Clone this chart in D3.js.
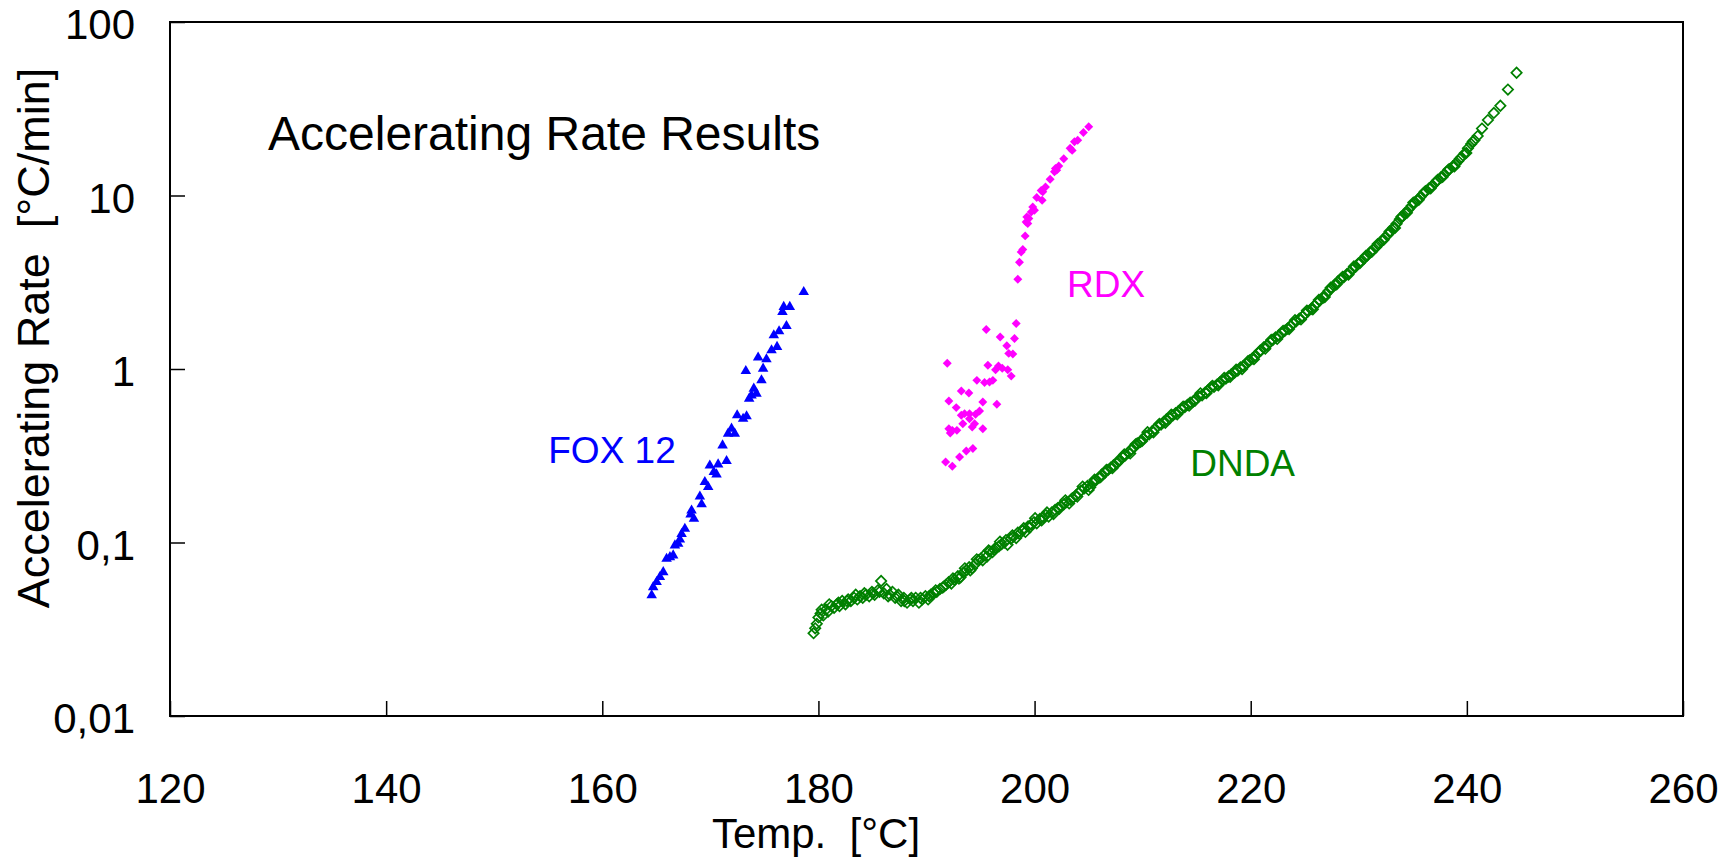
<!DOCTYPE html>
<html><head><meta charset="utf-8">
<script src="https://cdn.jsdelivr.net/npm/d3@7"></script>
<style>
body{margin:0;background:#fff}
svg text{font-family:Arial,"Liberation Sans",sans-serif;white-space:pre}
</style>
</head><body>
<svg id="chart" width="1736" height="859"></svg>
<script>
// ---- data ----
const xTicks = [120, 140, 160, 180, 200, 220, 240, 260];
const yTicks = [0.01, 0.1, 1, 10, 100];
const yTickLabels = ["0,01", "0,1", "1", "10", "100"];
const seriesNames = ["FOX 12", "RDX", "DNDA"];
const seriesColors = ["#0000FF", "#FF00FF", "#008000"];

const foxT = [164.57,164.71,165.03,165.33,165.64,165.95,166.26,166.56,166.72,167.02,167.18,167.34,167.64,168.17,168.26,168.48,169.03,169.19,169.49,169.80,169.95,170.32,170.57,170.72,171.50,171.13,171.64,171.96,172.26,172.48,173.03,173.35,173.28,173.59,173.81,174.27,174.02,174.73,174.88,174.42,175.19,175.66,175.87,176.36,176.17,177.04,176.67,176.79,177.35,178.64];
const foxV = [0.0496,0.0553,0.0592,0.0632,0.0675,0.0806,0.0824,0.0843,0.0962,0.0984,0.104,0.112,0.120,0.145,0.153,0.137,0.184,0.166,0.223,0.209,0.278,0.255,0.247,0.282,0.295,0.363,0.424,0.453,0.424,0.541,0.517,0.534,0.974,0.675,0.705,0.721,0.771,0.861,1.005,1.164,1.137,1.282,1.564,1.649,1.34,1.77,2.13,2.28,2.28,2.78];

const rdxT = [205.01,204.52,203.99,203.69,203.29,203.48,202.70,202.24,201.93,202.05,201.84,201.44,201.01,200.61,200.76,200.20,200.70,199.83,199.99,199.69,199.28,199.47,199.22,199.37,199.13,198.91,198.76,198.60,198.45,
  198.30,195.53,196.82,198.14,197.43,197.61,197.99,191.92,195.68,196.66,197.01,197.52,196.39,197.84,194.66,195.37,195.83,196.14,193.22,193.92,192.07,195.21,196.51,192.75,194.91,194.54,193.98,193.52,193.22,193.98,193.36,192.07,192.39,192.81,192.20,194.45,194.23,195.21,194.29,193.68,193.06,191.77,192.39];
const rdxV = [24.9,23.1,20.8,20.4,18.7,18.2,16.3,14.8,14.3,14.0,13.7,12.4,11.2,10.7,10.5,9.74,9.40,8.59,8.22,8.04,7.53,7.36,7.04,6.90,5.85,4.89,4.73,4.12,3.29,
  1.83,1.69,1.53,1.50,1.36,1.23,1.22,1.08,1.05,1.04,1.01,0.99,0.99,0.91,0.86,0.835,0.841,0.86,0.747,0.727,0.654,0.645,0.626,0.599,0.573,0.548,0.553,0.553,0.541,0.517,0.484,0.453,0.443,0.443,0.428,0.484,0.463,0.453,0.348,0.337,0.311,0.291,0.275];

const dndaT = [179.55,179.7,179.85,180.0,180.2,180.45,180.7,180.9,181.2,181.45,181.7,181.95,182.2,182.5,182.75,183.0,183.3,183.6,183.85,184.1,184.4,184.7,184.95,185.2,185.5,185.8,186.05,186.3,186.6,186.85,187.1,187.4,187.65,187.9,188.2,188.5,188.75,189.0,189.3,189.6,189.9,190.15,190.4,190.7,190.95,191.25,191.5,191.8,192.05,192.3,192.6,192.9,193.15,193.4,193.7,193.95,194.2,194.5,194.8,195.05,195.3,195.6,195.85,196.1,196.4,196.7,196.95,197.2,197.5,197.8,198.05,198.3,198.6,198.9,199.15,199.4,199.7,199.95,200.2,200.5,200.8,201.05,201.3,201.6,201.9,202.15,202.4,202.7,202.95,203.2,203.5,203.8,204.05,204.3,204.6,204.9,205.15,205.4,205.7,205.95,206.2,206.5,206.8,207.05,207.3,207.6,207.9,208.15,208.4,208.7,208.95,209.2,209.5,209.8,210.05,210.3,210.6,210.9,211.15,211.4,211.7,211.95,212.2,212.5,212.8,213.05,213.3,213.6,213.9,214.15,214.4,214.7,214.95,215.2,215.5,215.8,216.05,216.3,216.6,216.9,217.15,217.4,217.7,217.95,218.2,218.5,218.8,219.05,219.3,219.6,219.9,220.15,220.4,220.7,220.95,221.2,221.5,221.8,222.05,222.3,222.6,222.9,223.15,223.4,223.7,223.95,224.2,224.5,224.8,225.05,225.3,225.6,225.9,226.15,226.4,226.7,226.95,227.2,227.5,227.8,228.05,228.3,228.6,228.9,229.15,229.4,229.7,229.95,230.2,230.5,230.8,231.05,231.3,231.6,231.9,232.15,232.4,232.7,232.95,233.2,233.5,233.8,234.05,234.3,234.6,234.9,235.15,235.4,235.7,235.95,236.2,236.5,236.8,237.05,237.3,237.6,237.9,238.15,238.4,238.7,238.95,239.2,239.5,239.8,240.1,240.4,240.7,241.0,241.4,241.95,242.5,243.1,243.8,244.6,
  180.3,181.0,181.85,182.65,183.45,184.25,185.05,185.65,186.45,187.25,187.95,188.6,189.45,190.25,190.85,191.65,192.45,193.0,
  193.55,194.05,194.65,195.2,195.75,196.25,196.8,197.35,197.95,198.45,199.0,199.55,200.05,200.65,201.15,201.75,202.3,202.85,203.35,203.95,204.45,205.0,205.55,206.1,206.65,207.2,207.75,208.3,208.85,209.35,209.95,210.45,211.0,211.55,212.1,212.65,213.2,213.75,214.3,214.85,215.35,215.9,216.45,217.0,217.55,218.1,218.65,219.2,219.75,220.3,220.85,221.35,221.9,222.45,223.0,223.55,224.1,224.65,225.2,225.75,226.3,226.85,227.4,227.95,228.5,229.05,229.55,230.1,230.65,231.2,231.75,232.3,232.85,233.35,233.95,234.45,235.05,235.55,236.1,236.65,237.2,237.75,238.3,238.85,239.35,239.95,240.55];
const dndaV = [0.030,0.032,0.034,0.037,0.039,0.038,0.041,0.040,0.043,0.042,0.044,0.043,0.046,0.044,0.047,0.046,0.048,0.047,0.049,0.048,0.050,0.049,0.052,0.050,0.053,0.060,0.051,0.054,0.050,0.052,0.048,0.050,0.046,0.048,0.045,0.047,0.046,0.048,0.045,0.047,0.049,0.047,0.050,0.051,0.052,0.054,0.055,0.057,0.059,0.058,0.061,0.064,0.063,0.067,0.069,0.072,0.071,0.075,0.079,0.081,0.084,0.083,0.089,0.088,0.093,0.095,0.098,0.100,0.097,0.105,0.108,0.106,0.112,0.117,0.115,0.124,0.127,0.131,0.129,0.137,0.140,0.144,0.141,0.149,0.154,0.158,0.162,0.166,0.171,0.168,0.180,0.186,0.193,0.199,0.205,0.212,0.208,0.221,0.229,0.236,0.246,0.252,0.262,0.270,0.278,0.285,0.298,0.310,0.318,0.330,0.345,0.353,0.372,0.380,0.398,0.412,0.420,0.438,0.452,0.470,0.478,0.495,0.512,0.520,0.541,0.556,0.570,0.585,0.604,0.622,0.640,0.652,0.676,0.695,0.706,0.734,0.752,0.780,0.790,0.815,0.838,0.860,0.880,0.905,0.930,0.952,0.980,1.02,1.04,1.07,1.12,1.15,1.19,1.24,1.28,1.33,1.37,1.43,1.47,1.52,1.56,1.61,1.66,1.71,1.78,1.83,1.88,1.95,2.01,2.08,2.15,2.22,2.32,2.40,2.49,2.58,2.70,2.82,2.93,3.06,3.19,3.27,3.38,3.52,3.62,3.74,3.88,4.05,4.18,4.33,4.52,4.70,4.88,5.03,5.30,5.48,5.72,5.96,6.20,6.52,6.88,7.30,7.60,7.92,8.30,8.72,9.05,9.40,9.80,10.2,10.6,11.0,11.4,11.8,12.3,12.7,13.2,13.7,14.2,14.7,15.2,15.8,16.6,17.5,18.7,19.8,20.8,22.0,24.3,27.2,29.9,32.9,40.8,51.0,
  0.041,0.044,0.045,0.046,0.050,0.051,0.051,0.052,0.049,0.049,0.046,0.048,0.048,0.049,0.053,0.056,0.062,0.062,
  0.071,0.069,0.080,0.079,0.090,0.091,0.101,0.103,0.110,0.114,0.121,0.122,0.138,0.134,0.149,0.146,0.157,0.175,0.176,0.184,0.210,0.201,0.230,0.238,0.262,0.268,0.296,0.322,0.326,0.368,0.385,0.432,0.432,0.482,0.490,0.545,0.548,0.607,0.615,0.658,0.724,0.726,0.800,0.806,0.888,0.902,0.990,1.00,1.11,1.14,1.27,1.31,1.47,1.49,1.66,1.70,1.91,1.93,2.17,2.21,2.50,2.60,2.94,3.08,3.40,3.50,3.90,4.08,4.48,4.74,5.25,5.55,6.20,6.50,7.55,7.95,9.10,9.45,10.5,11.0,12.1,12.8,14.1,14.7,16.3,17.6,20.5];

// ---- layout ----
const svg = d3.select("#chart");
const L = 170, R = 1683, T = 22, B = 716;
const x = d3.scaleLinear().domain([120, 260]).range([L, R]);
const y = d3.scaleLog().domain([0.01, 100]).range([B, T]);

// frame
svg.append("rect").attr("x", L).attr("y", T).attr("width", R - L).attr("height", B - T)
  .attr("fill", "none").attr("stroke", "#000").attr("stroke-width", 2);

// x axis
const gx = svg.append("g").attr("transform", `translate(0,${B})`)
  .call(d3.axisBottom(x).tickValues(xTicks).tickSize(-15).tickPadding(57).tickFormat(d3.format("d")));
gx.select(".domain").remove();
gx.selectAll("line").attr("stroke", "#000").attr("stroke-width", 1.5);
gx.selectAll("text").attr("font-size", 42).attr("fill", "#000").attr("font-family", "Arial, 'Liberation Sans', sans-serif");

// y axis
const gy = svg.append("g").attr("transform", `translate(${L},0)`)
  .call(d3.axisLeft(y).tickValues(yTicks).tickSize(-15).tickPadding(35).tickFormat((d, i) => yTickLabels[i]));
gy.select(".domain").remove();
gy.selectAll("line").attr("stroke", "#000").attr("stroke-width", 1.5);
gy.selectAll("text").attr("font-size", 42).attr("dy", "0.4em").attr("fill", "#000").attr("font-family", "Arial, 'Liberation Sans', sans-serif");

// axis titles
svg.append("text").attr("x", 816).attr("y", 848).attr("text-anchor", "middle")
  .attr("font-size", 42).text("Temp.  [°C]");
svg.append("text").attr("transform", "translate(49,338) rotate(-90)").attr("text-anchor", "middle")
  .attr("font-size", 45).text("Accelerating Rate  [°C/min]");

// chart title
svg.append("text").attr("x", 268).attr("y", 150).attr("font-size", 48).text("Accelerating Rate Results");

// series
const plot = svg.append("g");
const fox = foxT.map((t, i) => ({t, v: foxV[i]}));
const rdx = rdxT.map((t, i) => ({t, v: rdxV[i]}));
const dnda = dndaT.map((t, i) => ({t, v: dndaV[i]}));

plot.append("g").selectAll("path").data(dnda).join("path")
  .attr("transform", d => `translate(${x(d.t)},${y(d.v)}) rotate(45)`)
  .attr("d", d3.symbol(d3.symbolSquare, 54)())
  .attr("fill", "none").attr("stroke", seriesColors[2]).attr("stroke-width", 1.7);

plot.append("g").selectAll("path").data(rdx).join("path")
  .attr("transform", d => `translate(${x(d.t)},${y(d.v)}) rotate(45)`)
  .attr("d", d3.symbol(d3.symbolSquare, 40)())
  .attr("fill", seriesColors[1]);

plot.append("g").selectAll("path").data(fox).join("path")
  .attr("transform", d => `translate(${x(d.t)},${y(d.v)})`)
  .attr("d", d3.symbol(d3.symbolTriangle, 48)())
  .attr("fill", seriesColors[0]);

// series labels
const labels = [
  {name: seriesNames[0], t: 155.0, v: 0.287, c: seriesColors[0]},
  {name: seriesNames[1], t: 203.0, v: 2.60, c: seriesColors[1]},
  {name: seriesNames[2], t: 214.4, v: 0.2415, c: seriesColors[2]}
];
svg.append("g").selectAll("text").data(labels).join("text")
  .attr("x", d => x(d.t)).attr("y", d => y(d.v))
  .attr("font-size", 37).attr("fill", d => d.c).text(d => d.name);
</script>
</body></html>
